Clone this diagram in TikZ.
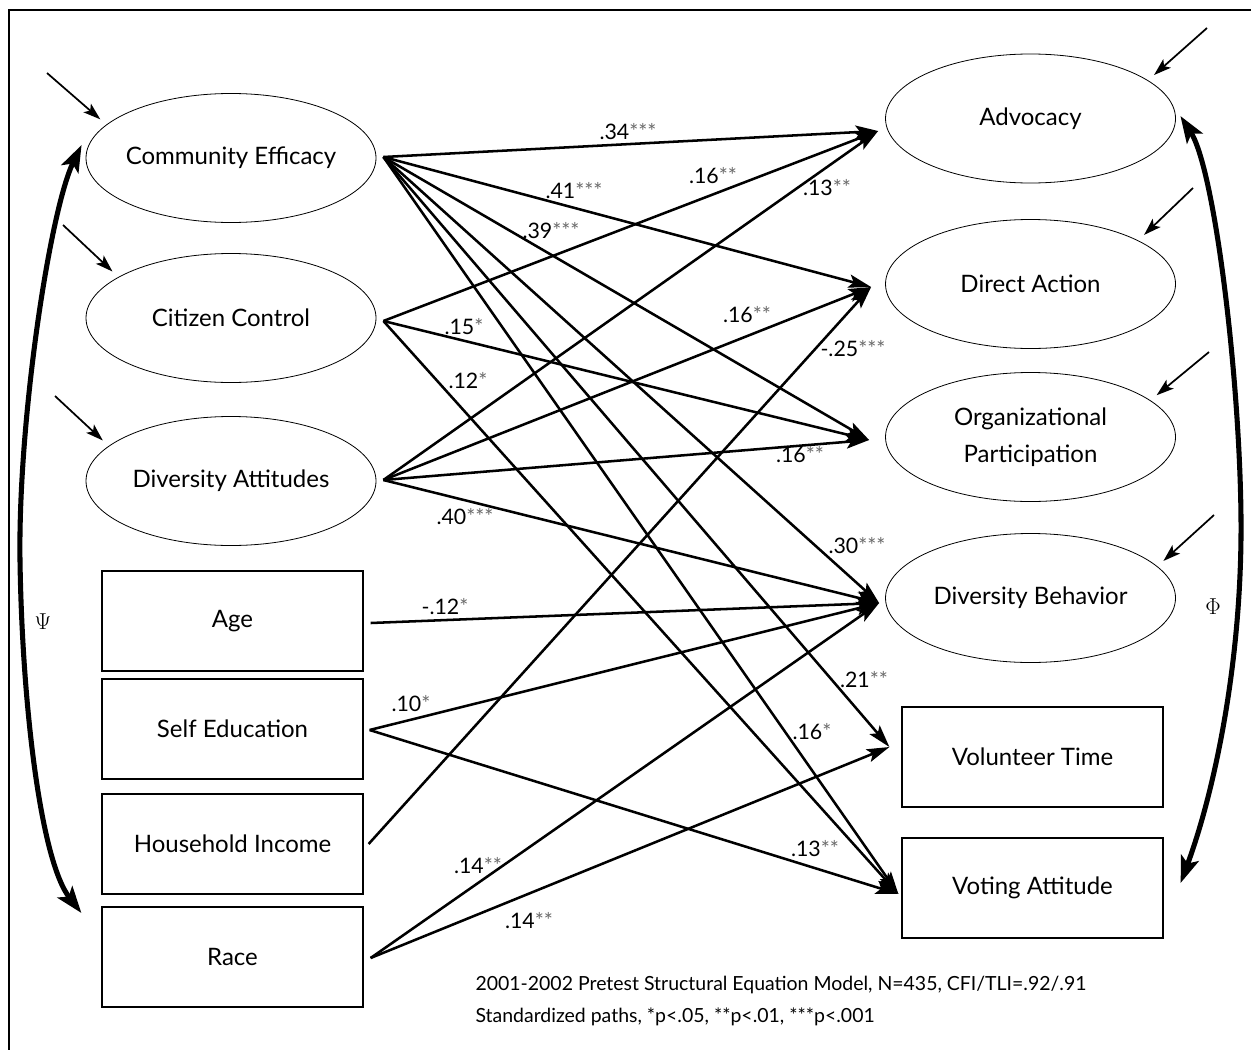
\documentclass[tikz,border=0pt]{standalone}
\usepackage{fontspec}
\setmainfont{Lato}
\usetikzlibrary{arrows.meta,calc,shapes.geometric}
\tikzset{every picture/.style={line width=0.75pt}}
\newcommand{\boxfont}{\fontsize{18}{27.75}\selectfont}
\newcommand{\coeffont}{\fontsize{16}{18}\selectfont}
\newcommand{\capfont}{\fontsize{14.6}{23.5}\selectfont}
\definecolor{stargray}{RGB}{105,105,105}
\newcommand{\sig}[1]{\textcolor{stargray}{#1}}
\tikzset{
  latent/.style={draw, ellipse, line width=0.6pt, minimum width=217.5pt, minimum height=96.75pt, inner xsep=-30pt, inner ysep=0pt, align=center, font=\boxfont},
  manifest/.style={draw, rectangle, line width=0.9pt, minimum width=195.75pt, minimum height=75pt, inner sep=0pt, font=\boxfont},
  pathline/.style={line width=1.9pt, -{Stealth[length=17pt,width=10pt,inset=3.5pt]}},
  errline/.style={line width=1.3pt, shorten >=6pt, -{Stealth[length=13pt,width=8.5pt,inset=3pt]}},
  covline/.style={line width=3.8pt, {Stealth[length=20pt,width=14pt,inset=4.5pt]}-{Stealth[length=20pt,width=14pt,inset=4.5pt]}},
  coef/.style={inner sep=0pt, font=\coeffont},
}

\begin{document}
\begin{tikzpicture}[x=0.75pt,y=0.75pt,yscale=-1,xscale=1]
	\path[use as bounding box, clip] (0,0) rectangle (1251,1049);
	
	%Shape: Frame
	\draw[line width=1.4pt] (9,1100) -- (9,10) -- (1300,10);
	
	%Shape: Ellipse
	\node[latent] (ce) at (231,158) {Community Efficacy};
	%Shape: Ellipse
	\node[latent] (cc) at (231,318) {Citizen Control};
	%Shape: Ellipse
	\node[latent] (da) at (231,481) {Diversity Attitudes};
	%Shape: Rectangle
	\node[manifest] (age) at (232.5,621) {Age};
	%Shape: Rectangle
	\node[manifest] (sedu) at (232.5,729) {Self Education};
	%Shape: Rectangle
	\node[manifest] (hinc) at (232.5,844) {Household Income};
	%Shape: Rectangle
	\node[manifest] (race) at (232.5,957) {Race};
	
	%Shape: Ellipse
	\node[latent] (adv) at (1030.5,118.5) {Advocacy};
	%Shape: Ellipse
	\node[latent] (dact) at (1030.5,284) {Direct Action};
	%Shape: Ellipse
	\node[latent] (orgp) at (1030.5,437) {Organizational\\Participation};
	%Shape: Ellipse
	\node[latent] (divb) at (1030.5,598) {Diversity Behavior};
	%Shape: Rectangle
	\node[manifest] (vtime) at (1032.5,757) {Volunteer Time};
	%Shape: Rectangle
	\node[manifest] (vote) at (1032.5,888) {Voting Attitude};
	
	% ends of the paths
	\coordinate (ceo) at ($(ce.east)+(7,-1)$);
	\coordinate (cco) at ($(cc.east)+(7,3)$);
	\coordinate (dao) at ($(da.east)+(7,-1)$);
	\coordinate (ageo) at ($(age.east)+(7,2)$);
	\coordinate (seduo) at ($(sedu.east)+(6,1)$);
	\coordinate (hinco) at ($(hinc.east)+(5,0)$);
	\coordinate (raceo) at ($(race.east)+(7,1)$);
	\coordinate (advi) at ($(adv.west)+(-7,12.5)$);
	\coordinate (dacti) at ($(dact.west)+(-14,3)$);
	\coordinate (orgpi) at ($(orgp.west)+(-16,3)$);
	\coordinate (divbi) at ($(divb.west)+(-6,5)$);
	\coordinate (vtimei) at ($(vtime.west)+(-12,-10)$);
	\coordinate (votei) at ($(vote.west)+(-3,6)$);
	
	%Straight Lines
	\draw[pathline] (ceo) -- (advi);
	\draw[pathline] (ceo) -- (dacti);
	\draw[pathline] (ceo) -- (orgpi);
	\draw[pathline] (ceo) -- (divbi);
	\draw[pathline] (ceo) -- (vtimei);
	\draw[pathline] (ceo) -- (votei);
	%Straight Lines
	\draw[pathline] (cco) -- (advi);
	\draw[pathline] (cco) -- (orgpi);
	\draw[pathline] (cco) -- (votei);
	%Straight Lines
	\draw[pathline] (dao) -- (advi);
	\draw[pathline] (dao) -- (dacti);
	\draw[pathline] (dao) -- (orgpi);
	\draw[pathline] (dao) -- (divbi);
	%Straight Lines
	\draw[pathline] (ageo) -- (divbi);
	\draw[pathline] (seduo) -- (divbi);
	\draw[pathline] (seduo) -- (votei);
	\draw[pathline] (hinco) -- (dacti);
	\draw[pathline] (raceo) -- (divbi);
	\draw[pathline] (raceo) -- (vtimei);
	
	%Straight Lines (errors)
	\coordinate (ceerr) at (47,73);
	\coordinate (ccerr) at (63,225);
	\coordinate (daerr) at (55,396);
	\coordinate (adverr) at (1207,28);
	\coordinate (dacterr) at (1193,188);
	\coordinate (orgperr) at (1209,352);
	\coordinate (divberr) at (1214,515);
	\draw[errline] (ceerr) -- (ce.165);
	\draw[errline] (ccerr) -- (cc.160);
	\draw[errline] (daerr) -- (da.164);
	\draw[errline] (adverr) -- (adv.18);
	\draw[errline] (dacterr) -- (dact.22);
	\draw[errline] (orgperr) -- (orgp.17);
	\draw[errline] (divberr) -- (divb.14);
	
	%Curve Lines
	\draw[covline] ([shift={(-4,-13)}]ce.west) .. controls (50,210) and (18,420) .. (20,560) .. controls (22,700) and (40,860) .. ([shift={(-20,-44)}]race.west);
	%Curve Lines
	\draw[covline] ([shift={(4.5,-2.5)}]adv.east) .. controls (1215,170) and (1240,380) .. (1241,520) .. controls (1242,660) and (1215,790) .. ([shift={(17,-5)}]vote.east);
	
	% Text Node
	\node[font=\fontsize{16}{18}\selectfont] (psi) at (43,622) {$\Psi$};
	% Text Node
	\node[font=\fontsize{16}{18}\selectfont] (phi) at (1213,607) {$\Phi$};
	
	% Text Node
	\node[coef] (tceadv) at (628,132) {.34\sig{***}};
	\node[coef] (tcedact) at (574,191) {.41\sig{***}};
	\node[coef] (tceorgp) at (551,231) {.39\sig{***}};
	\node[coef] (tcedivb) at (857,546) {.30\sig{***}};
	\node[coef] (tcevtime) at (864,680) {.21\sig{**}};
	\node[coef] (tcevote) at (812,732) {.16\sig{*}};
	% Text Node
	\node[coef] (tccadv) at (713,176) {.16\sig{**}};
	\node[coef] (tccorgp) at (464,327) {.15\sig{*}};
	\node[coef] (tccvote) at (468,381) {.12\sig{*}};
	% Text Node
	\node[coef] (tdaadv) at (827,188) {.13\sig{**}};
	\node[coef] (tdadact) at (747,315) {.16\sig{**}};
	\node[coef] (tdaorgp) at (800,455) {.16\sig{**}};
	\node[coef] (tdadivb) at (465,517) {.40\sig{***}};
	% Text Node
	\node[coef] (tagedivb) at (445,607) {-.12\sig{*}};
	\node[coef] (tsedudivb) at (411,704) {.10\sig{*}};
	\node[coef] (tseduvote) at (815,849) {.13\sig{**}};
	\node[coef] (thincdact) at (853,349) {-.25\sig{***}};
	\node[coef] (tracedivb) at (478,866) {.14\sig{**}};
	\node[coef] (tracevtime) at (529,921) {.14\sig{**}};
	
	% Text Node
	\node[anchor=north west, inner sep=0pt, align=left, font=\capfont] (note) at (475,976) {2001-2002 Pretest Structural Equation Model, N=435, CFI/TLI=.92/.91\\Standardized paths, *p<.05, **p<.01, ***p<.001};
	
\end{tikzpicture}
\end{document}
